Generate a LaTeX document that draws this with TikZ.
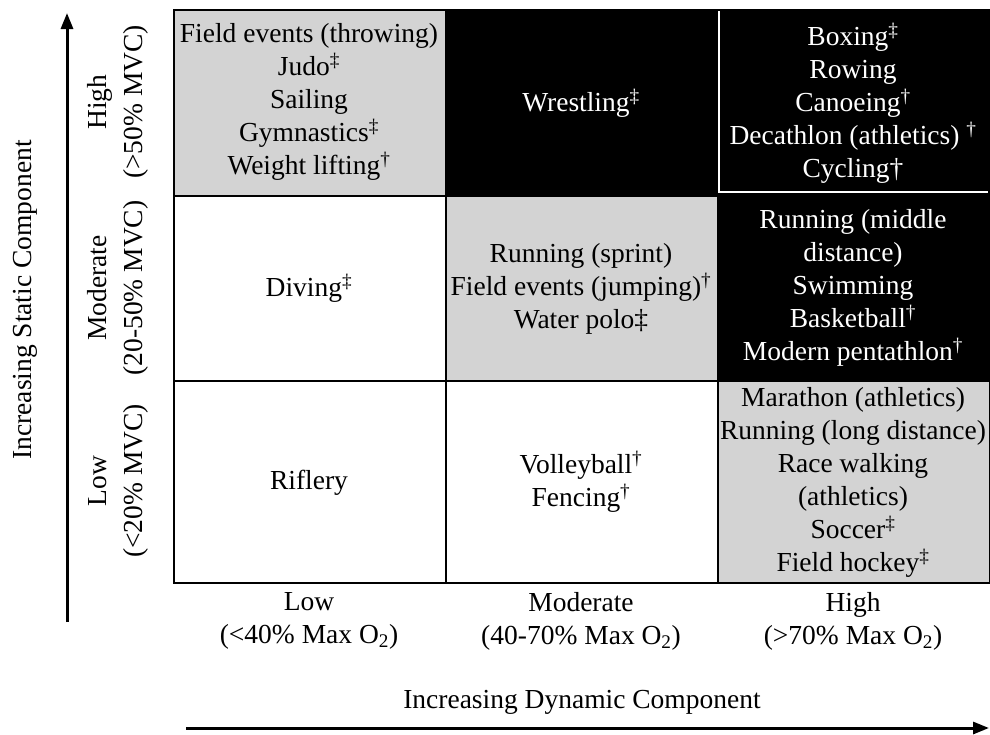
\documentclass[tikz,border=0pt]{standalone}
\usepackage{fontspec}
\setmainfont{Liberation Serif}
\usetikzlibrary{arrows.meta}
\definecolor{cellgrey}{HTML}{D3D3D3}
\newcommand{\sdg}{\textsuperscript{†}}
\newcommand{\sddg}{\textsuperscript{‡}}
\begin{document}
\begin{tikzpicture}[x=1pt,y=-1pt,
  txt/.style={font=\fontsize{27.5}{33}\selectfont, align=center, inner sep=0pt},
  cellbox/.style={draw=black, line width=2pt, anchor=north west, inner sep=0pt, minimum width=272pt},
  greycell/.style={cellbox, fill=cellgrey},
  blackcell/.style={cellbox, fill=black},
  whitecell/.style={cellbox, fill=white},
  wtxt/.style={txt, text=white},
  rowlab/.style={font=\fontsize{27.5}{36}\selectfont, align=center, inner sep=0pt, rotate=90},
  axisarrow/.style={line width=3pt, -{Triangle[length=16pt,width=12pt]}}
]
\useasboundingbox (0,0) rectangle (990,734);
% cells
\node[greycell, minimum height=186pt] (c11) at (173,9) {};
\node[blackcell, minimum height=186pt] (c12) at (445,9) {};
\node[blackcell, minimum height=186pt] (c13) at (717,9) {};
\node[whitecell, minimum height=185pt] (c21) at (173,195) {};
\node[greycell, minimum height=185pt] (c22) at (445,195) {};
\node[blackcell, minimum height=185pt] (c23) at (717,195) {};
\node[whitecell, minimum height=202pt] (c31) at (173,380) {};
\node[whitecell, minimum height=202pt] (c32) at (445,380) {};
\node[greycell, minimum height=202pt] (c33) at (717,380) {};
% white separators between black cells
\draw[white, line width=1.5pt] (719,11) -- (719,192) -- (988,192);
% cell texts
\node[txt] (t11) at (309,102) {Field events (throwing)\\Judo\sddg\\Sailing\\Gymnastics\sddg\\Weight lifting\sdg};
\node[wtxt] (t12) at (581,103) {Wrestling\sddg};
\node[wtxt] (t13) at (853,103) {Boxing\sddg\\Rowing\\Canoeing\sdg\\Decathlon (athletics) \sdg\\Cycling†};
\node[txt] (t21) at (309,288) {Diving\sddg};
\node[txt] (t22) at (581,289) {Running (sprint)\\Field events (jumping)\sdg\\Water polo‡};
\node[wtxt] (t23) at (853,288) {Running (middle\\distance)\\Swimming\\Basketball\sdg\\Modern pentathlon\sdg};
\node[txt] (t31) at (309,483) {Riflery};
\node[txt] (t32) at (581,482) {Volleyball\sdg\\Fencing\sdg};
\node[txt] (t33) at (853,482) {Marathon (athletics)\\Running (long distance)\\Race walking\\(athletics)\\Soccer\sddg\\Field hockey\sddg};
% row labels
\node[rowlab] (rh) at (118,102) {High\\(>50\% MVC)};
\node[rowlab] (rm) at (118,288) {Moderate\\(20-50\% MVC)};
\node[rowlab] (rl) at (118,481) {Low\\(<20\% MVC)};
% column labels
\node[txt] (cl) at (309,621) {Low\\(<40\% Max O\textsubscript{2})};
\node[txt] (cm) at (581,621) {Moderate\\(40-70\% Max O\textsubscript{2})};
\node[txt] (ch) at (853,621) {High\\(>70\% Max O\textsubscript{2})};
% axes
\node[txt, rotate=90] (ylab) at (25,300) {Increasing Static Component};
\node[txt] (xlab) at (582,702) {Increasing Dynamic Component};
\coordinate (ys) at (67,622);
\coordinate (ye) at (67,13);
\coordinate (xs) at (186,728);
\coordinate (xe) at (989,728);
\draw[axisarrow] (ys) -- (ye);
\draw[axisarrow] (xs) -- (xe);
\end{tikzpicture}
\end{document}
